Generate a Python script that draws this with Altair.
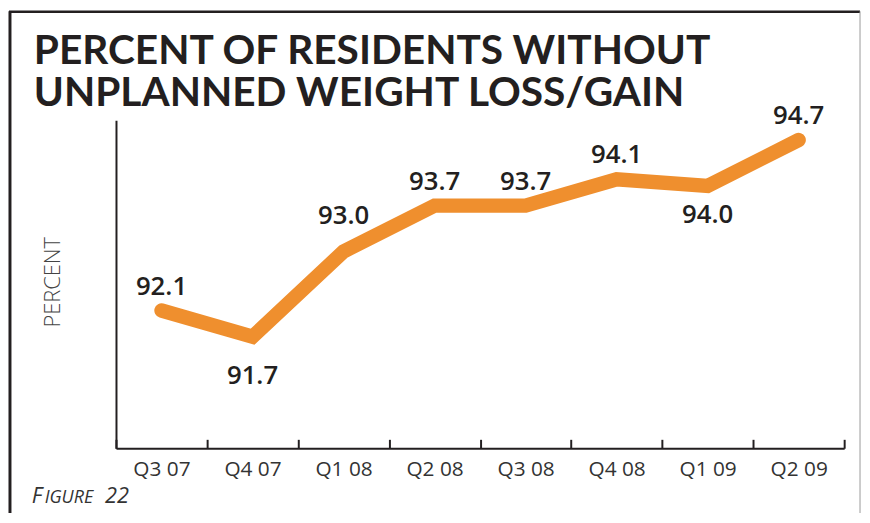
import altair as alt
import pandas as pd

QUARTERS = ["Q3 07", "Q4 07", "Q1 08", "Q2 08", "Q3 08", "Q4 08", "Q1 09", "Q2 09"]
VALUES = [92.1, 91.7, 93.0, 93.7, 93.7, 94.1, 94.0, 94.7]
LABEL_SIDE = ["above", "below_far", "above_far", "above", "above", "above", "below", "above"]
TITLE_LINES = ["PERCENT OF RESIDENTS WITHOUT", "UNPLANNED WEIGHT LOSS/GAIN"]
Y_TITLE = "PERCENT"
FIGURE_PARTS = ["F", "IGURE", "22"]

df = pd.DataFrame({
    "q": QUARTERS,
    "v": VALUES,
    "side": LABEL_SIDE,
    "lab": [f"{v:.1f}" for v in VALUES],
})

W, H = 735, 331
DARK = "#231f20"
ORANGE = "#EF8F2E"

x_enc = alt.X(
    "q:N", sort=QUARTERS,
    scale=alt.Scale(paddingInner=0, paddingOuter=0),
    axis=alt.Axis(
        title=None, domainColor=DARK, domainWidth=2,
        tickColor=DARK, tickWidth=2, tickSize=alt.ExprRef("-9"), tickBand="extent",
        labelAngle=0, labelFont="Open Sans", labelFontSize=21, labelColor="#333333",
        labelPadding=37, labelBaseline="alphabetic", grid=False,
    ),
)
y_enc = alt.Y(
    "v:Q",
    scale=alt.Scale(domain=[90, 95], nice=False, zero=False),
    axis=alt.Axis(
        title=Y_TITLE, labels=False, ticks=False, grid=False,
        domainColor=DARK, domainWidth=2,
        titleX=-64, titleY=163, titleAngle=270, titleAlign="center",
        titleBaseline="middle", titleFont="Open Sans", titleFontWeight=300,
        titleFontSize=22, titleColor="#444444",
    ),
)

base = alt.Chart(df)
line = base.mark_line(color=ORANGE, strokeWidth=14.5, strokeCap="round", strokeJoin="miter").encode(x=x_enc, y=y_enc)

def labels(side, dy):
    return base.transform_filter(alt.datum.side == side).mark_text(
        font="Open Sans", fontWeight=600, fontSize=26, color=DARK,
        baseline="alphabetic", dy=dy,
    ).encode(x=alt.X("q:N", sort=QUARTERS), y="v:Q", text="lab:N")

lab_above = labels("above", -16)
lab_far = labels("above_far", -28)
lab_below = labels("below", 37)
lab_below_far = labels("below_far", 48)

def text_at(txt, xv, yv, **kw):
    return alt.Chart(pd.DataFrame({"t": [txt]})).mark_text(
        align="left", baseline="alphabetic", **kw
    ).encode(text="t:N", x=alt.value(xv), y=alt.value(yv))

title1 = text_at(TITLE_LINES[0], -83, -57, font="Lato", fontWeight="bold", fontSize=41, color=DARK)
title2 = text_at(TITLE_LINES[1], -83, -14, font="Lato", fontWeight="bold", fontSize=41, color=DARK)

fig_f = text_at(FIGURE_PARTS[0], -85, 386, font="Open Sans", fontStyle="italic", fontSize=22, color="#333333")
fig_i = text_at(FIGURE_PARTS[1], -72, 386, font="Open Sans", fontStyle="italic", fontSize=18, color="#333333")
fig_n = text_at(FIGURE_PARTS[2], -11, 386, font="Open Sans", fontStyle="italic", fontSize=22, color="#333333")

one = alt.Chart(pd.DataFrame({"a": [0]}))
frame_top = one.mark_rule(color=DARK, strokeWidth=2.5).encode(x=alt.value(-108), x2=alt.value(751), y=alt.value(-109.5))
frame_left = one.mark_rule(color=DARK, strokeWidth=3).encode(x=alt.value(-107), y=alt.value(-110), y2=alt.value(420))
frame_right = one.mark_rule(color="#9a9a9a", strokeWidth=1).encode(x=alt.value(751), y=alt.value(-110), y2=alt.value(420))

chart = alt.layer(
    frame_top, frame_left, frame_right,
    line, lab_above, lab_far, lab_below, lab_below_far,
    title1, title2, fig_f, fig_i, fig_n,
).properties(
    width=W, height=H,
    padding={"left": 109, "top": 111, "right": 18, "bottom": 63},
    autosize=alt.AutoSizeParams(type="none"),
    background="white",
).configure_view(stroke=None)

chart.save("out.html", embed_options={"renderer": "svg", "actions": False})
